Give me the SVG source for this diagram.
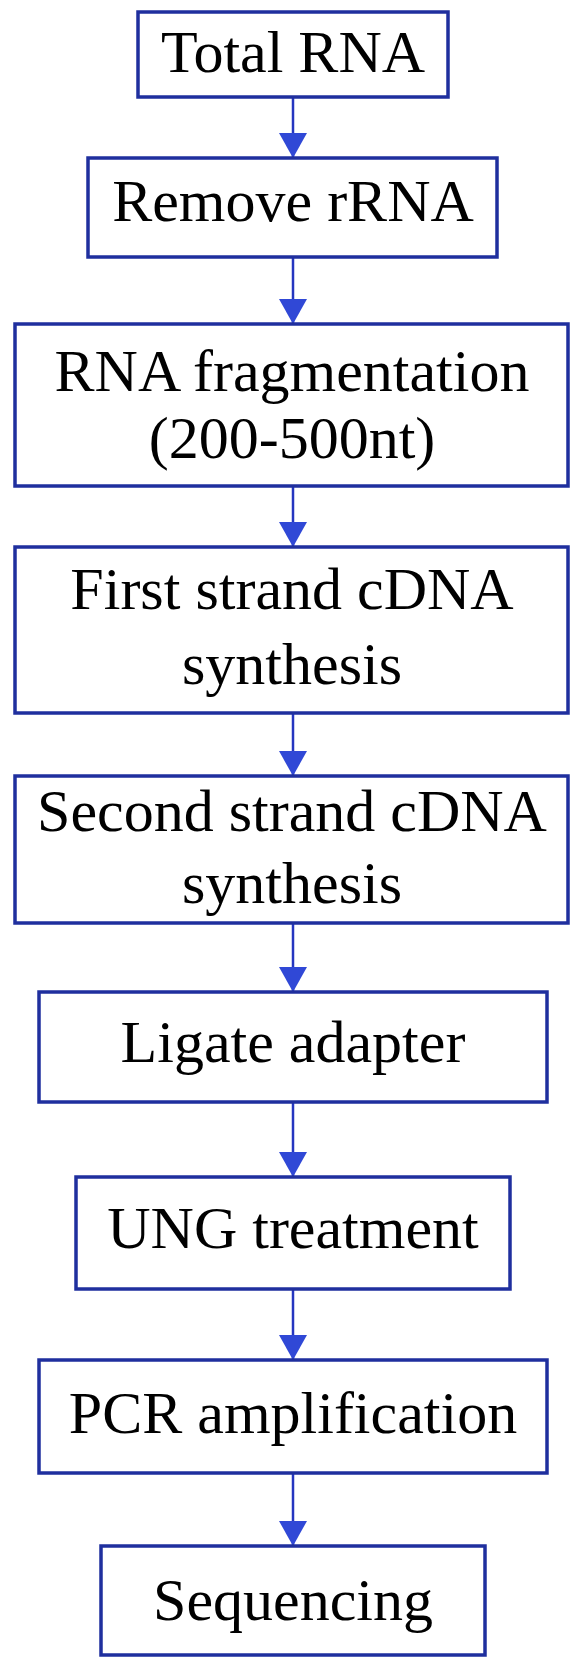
<svg xmlns="http://www.w3.org/2000/svg" width="570" height="1657" viewBox="0 0 570 1657">
<style>
.box{fill:#fff;stroke:#1f2f9e;stroke-width:3.5}
.lbl{font-family:"Liberation Serif","Times New Roman",serif;font-size:60px;fill:#000;text-anchor:middle}
.con{stroke:#2536c0;stroke-width:2.5;fill:none}
</style>
<defs>
<marker id="ah" markerUnits="userSpaceOnUse" markerWidth="26" markerHeight="28" refX="25" refY="14" orient="auto" viewBox="0 0 26 28">
<path d="M0,0 L25,14 L0,28 Z" fill="#3048d6"/>
</marker>
</defs>
<rect width="570" height="1657" fill="#fff"/>
<g id="connectors">
<line class="con" x1="293" y1="97" x2="293" y2="158" marker-end="url(#ah)"/>
<line class="con" x1="293" y1="257" x2="293" y2="324" marker-end="url(#ah)"/>
<line class="con" x1="293" y1="486" x2="293" y2="547" marker-end="url(#ah)"/>
<line class="con" x1="293" y1="713" x2="293" y2="776" marker-end="url(#ah)"/>
<line class="con" x1="293" y1="923" x2="293" y2="992" marker-end="url(#ah)"/>
<line class="con" x1="293" y1="1102" x2="293" y2="1177" marker-end="url(#ah)"/>
<line class="con" x1="293" y1="1289" x2="293" y2="1360" marker-end="url(#ah)"/>
<line class="con" x1="293" y1="1473" x2="293" y2="1546" marker-end="url(#ah)"/>
</g>
<g id="n1"><rect class="box" x="138" y="12" width="310" height="85"/><text class="lbl" x="293" y="72">Total RNA</text></g>
<g id="n2"><rect class="box" x="88" y="158" width="409" height="99"/><text class="lbl" x="293" y="221">Remove rRNA</text></g>
<g id="n3"><rect class="box" x="15" y="324" width="553" height="162"/><text class="lbl" x="292" y="391">RNA fragmentation</text><text class="lbl" x="292" y="458">(200-500nt)</text></g>
<g id="n4"><rect class="box" x="15" y="547" width="553" height="166"/><text class="lbl" x="292" y="609">First strand cDNA</text><text class="lbl" x="292" y="684">synthesis</text></g>
<g id="n5"><rect class="box" x="15" y="776" width="553" height="147"/><text class="lbl" x="292" y="831">Second strand cDNA</text><text class="lbl" x="292" y="903">synthesis</text></g>
<g id="n6"><rect class="box" x="39" y="992" width="508" height="110"/><text class="lbl" x="293" y="1062">Ligate adapter</text></g>
<g id="n7"><rect class="box" x="76" y="1177" width="434" height="112"/><text class="lbl" x="293" y="1248">UNG treatment</text></g>
<g id="n8"><rect class="box" x="39" y="1360" width="508" height="113"/><text class="lbl" x="293" y="1433">PCR amplification</text></g>
<g id="n9"><rect class="box" x="101" y="1546" width="384" height="109"/><text class="lbl" x="293" y="1620">Sequencing</text></g>
</svg>
